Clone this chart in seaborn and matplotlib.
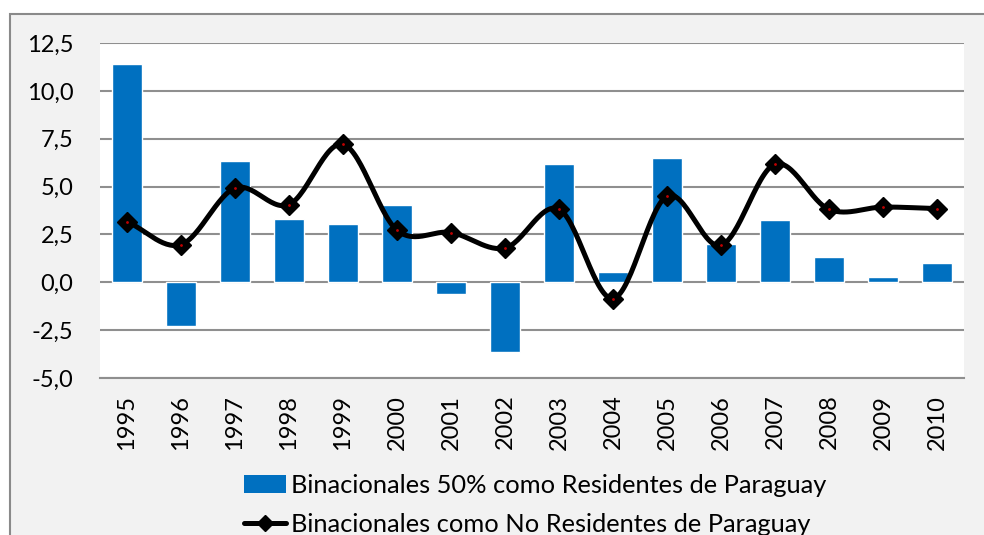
import numpy as np
import matplotlib
matplotlib.use("Agg")
import matplotlib.pyplot as plt
import seaborn as sns
from matplotlib.lines import Line2D
from matplotlib.patches import Patch, Rectangle

years = ["1995", "1996", "1997", "1998", "1999", "2000", "2001", "2002",
         "2003", "2004", "2005", "2006", "2007", "2008", "2009", "2010"]
residentes_50 = [11.4, -2.28, 6.35, 3.3, 3.03, 4.02, -0.59, -3.64,
                 6.18, 0.54, 6.48, 2.0, 3.24, 1.31, 0.3, 1.01]
no_residentes = [3.17, 1.97, 4.92, 4.06, 7.21, 2.72, 2.6, 1.79,
                 3.82, -0.85, 4.5, 1.93, 6.17, 3.81, 3.93, 3.85]
yticks = [-5.0, -2.5, 0.0, 2.5, 5.0, 7.5, 10.0, 12.5]

label_bar = "Binacionales 50% como Residentes de Paraguay"
label_line = "Binacionales como No Residentes de Paraguay"

sns.set_theme(style="white")
plt.rcParams["font.family"] = ["Lato", "DejaVu Sans"]

BLUE = "#0070C0"
GRID = "#8f8f8f"

fig = plt.figure(figsize=(9.84, 5.35), dpi=100)
W, H = 984, 535
# outer chart frame (cut off at right and bottom like the source)
frame = Rectangle((10 / W, -0.1), 1.1, 1 - 14 / H + 0.1,
                  transform=fig.transFigure, facecolor="#f2f2f2",
                  edgecolor="#8a8a8a", linewidth=1.5, zorder=-5)
fig.patches.append(frame)

ax = fig.add_axes([100 / W, 1 - 378 / H, 864 / W, 335 / H])
ax.set_zorder(1)
ax.set_facecolor("white")

sns.barplot(x=years, y=residentes_50, color=BLUE, width=0.57, saturation=1,
            ax=ax, zorder=2)


def smooth(y, n=30):
    # Catmull-Rom curve through the points, like a spreadsheet "smoothed line"
    y = np.asarray(y, dtype=float)
    x = np.arange(len(y), dtype=float)
    px = np.concatenate([[2 * x[0] - x[1]], x, [2 * x[-1] - x[-2]]])
    py = np.concatenate([[2 * y[0] - y[1]], y, [2 * y[-1] - y[-2]]])
    xs, ys = [], []
    t = np.linspace(0, 1, n, endpoint=False)
    for i in range(1, len(px) - 2):
        for p, out in ((px, xs), (py, ys)):
            p0, p1, p2, p3 = p[i - 1], p[i], p[i + 1], p[i + 2]
            out.extend(0.5 * ((2 * p1) + (-p0 + p2) * t
                              + (2 * p0 - 5 * p1 + 4 * p2 - p3) * t ** 2
                              + (-p0 + 3 * p1 - 3 * p2 + p3) * t ** 3))
    xs.append(x[-1])
    ys.append(y[-1])
    return np.array(xs), np.array(ys)


sx, sy = smooth(no_residentes)
sns.lineplot(x=sx, y=sy, color="black", linewidth=3.6, sort=False, ax=ax,
             zorder=4)
ax.plot(range(len(years)), no_residentes, linestyle="none", marker="D",
        markersize=10, color="black", zorder=5)
ax.plot(range(len(years)), no_residentes, linestyle="none", marker=".",
        markersize=2, color="#c00000", zorder=6)

ax.set_xlim(-0.5, len(years) - 0.5)
ax.set_ylim(-5.0, 12.5)
ax.set_yticks(yticks)
ax.set_yticklabels([f"{v:.1f}".replace(".", ",") for v in yticks])
ax.yaxis.grid(True, color=GRID, linewidth=1.5)
ax.set_axisbelow(True)
for s in ["left", "right", "top"]:
    ax.spines[s].set_visible(False)
ax.spines["bottom"].set_color(GRID)
ax.spines["bottom"].set_linewidth(1.5)
ax.tick_params(axis="x", labelrotation=90, labelsize=17, length=0, pad=12,
               labelcolor="black")
ax.tick_params(axis="y", labelsize=17, length=0, pad=19, labelcolor="black")
ax.set_xlabel("")
ax.set_ylabel("")

handles = [Patch(facecolor=BLUE, edgecolor="none"),
           Line2D([0], [0], color="black", linewidth=3.6, marker="D",
                  markersize=8, markerfacecolor="black")]
fig.legend(handles, [label_bar, label_line], loc="upper left",
           bbox_to_anchor=(244 / W, 1 - 474 / H), frameon=False,
           fontsize=18.3, handlelength=1.65, handletextpad=0.2,
           labelspacing=0.62, borderpad=0, borderaxespad=0,
           labelcolor="black")

fig.savefig("out.png", dpi=100)
